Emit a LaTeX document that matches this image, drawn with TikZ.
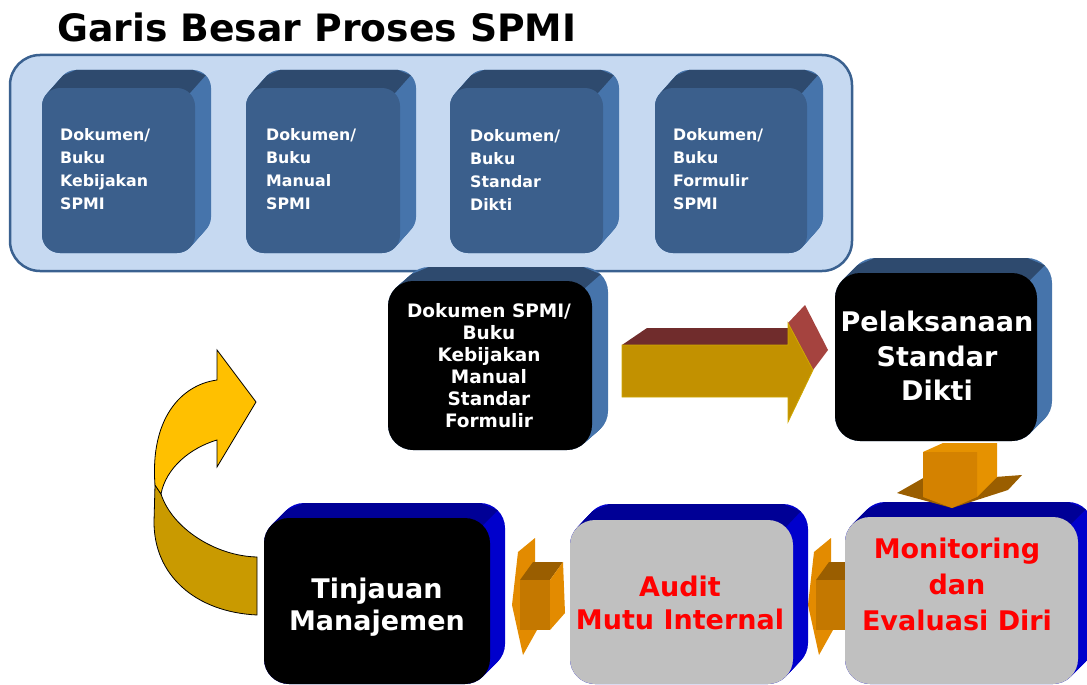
\documentclass[tikz,border=0pt]{standalone}
\usepackage{fontspec}
\setmainfont{DejaVu Sans}
\definecolor{contfill}{HTML}{C6D9F1}
\definecolor{contline}{HTML}{3A6190}
\definecolor{docfront}{HTML}{3B5F8C}
\definecolor{docside}{HTML}{4674AB}
\definecolor{doctop}{HTML}{2E4A6E}
\definecolor{bluesidec}{HTML}{0000CC}
\definecolor{bluetopc}{HTML}{000096}
\definecolor{greyfront}{HTML}{C0C0C0}
\definecolor{arrgold}{HTML}{C29100}
\definecolor{arrredtop}{HTML}{702C2C}
\definecolor{arrredside}{HTML}{A5433F}
\definecolor{orlight}{HTML}{E38B00}
\definecolor{ormid}{HTML}{C47800}
\definecolor{ordark}{HTML}{9A5E00}
\definecolor{ordfront}{HTML}{D48200}
\definecolor{ordside}{HTML}{E69200}
\definecolor{curvy}{HTML}{FFC000}
\definecolor{curvd}{HTML}{C99A00}
\definecolor{txtred}{HTML}{FF0000}
% 3D extrusion: x0 y0 x1 y1 r dx dy sidecolor topcolor
\newcommand\extru[9]{%
  \foreach \k in {0,1,...,16}{%
    \fill[#8,rounded corners=#5pt] ({#1+\k*#6/16},{#2-\k*#7/16}) rectangle ({#3+\k*#6/16},{#4-\k*#7/16});
  }%
  \fill[#9] ({#1+0.293*#5},{#2+0.293*#5}) -- ({#1+#6+0.293*#5},{#2-#7+0.293*#5}) -- ({#1+#6+#5},{#2-#7})
     -- ({#3+#6-#5},{#2-#7}) -- ({#3+#6-0.293*#5},{#2-#7+0.293*#5}) -- ({#3-0.293*#5},{#2+0.293*#5}) -- cycle;
}
\tikzset{
  front/.style={anchor=north west,inner sep=0pt,outer sep=0pt},
  doctxt/.style={anchor=west,inner sep=0pt,text=white,align=left,
     font=\fontsize{15.8}{23}\selectfont\bfseries},
  bigtxt/.style={inner sep=0pt,align=center,font=\fontsize{27}{34.5}\selectfont\bfseries}
}
\begin{document}
\begin{tikzpicture}[x=1pt,y=-1pt]
\useasboundingbox (0,0) rectangle (1087,685);
\clip (0,0) rectangle (1087,685);
% title
\node[anchor=base west,inner sep=0pt,font=\fontsize{37.7}{40}\selectfont\bfseries] (title) at (57,42) {Garis Besar Proses SPMI};
% container
\node[front,fill=contfill,draw=contline,line width=2.5pt,rounded corners=30pt,minimum width=842pt,minimum height=216pt] (cont) at (10,55) {};
% document boxes
\extru{42}{88}{195}{253}{18}{16}{18}{docside}{doctop}
\node[front,fill=docfront,rounded corners=18pt,minimum width=153pt,minimum height=165pt] (b1) at (42,88) {};
\extru{246}{88}{400}{253}{18}{16}{18}{docside}{doctop}
\node[front,fill=docfront,rounded corners=18pt,minimum width=154pt,minimum height=165pt] (b2) at (246,88) {};
\extru{450}{88}{603}{253}{18}{16}{18}{docside}{doctop}
\node[front,fill=docfront,rounded corners=18pt,minimum width=153pt,minimum height=165pt] (b3) at (450,88) {};
\extru{655}{88}{807}{253}{18}{16}{18}{docside}{doctop}
\node[front,fill=docfront,rounded corners=18pt,minimum width=152pt,minimum height=165pt] (b4) at (655,88) {};
\node[doctxt] (t1) at (60,169.5) {Dokumen/\\Buku\\Kebijakan\\SPMI};
\node[doctxt] (t2) at (266,169.5) {Dokumen/\\Buku\\Manual\\SPMI};
\node[doctxt] (t3) at (470,169.5) {Dokumen/\\Buku\\Standar\\Dikti};
\node[doctxt] (t4) at (673,169.5) {Dokumen/\\Buku\\Formulir\\SPMI};
% middle black box
\extru{388}{281}{592}{450}{25}{16}{14}{docside}{doctop}
\node[front,fill=black,rounded corners=25pt,minimum width=204pt,minimum height=169pt] (mid) at (388,281) {};
\node[inner sep=0pt,align=center,text=white,font=\fontsize{18.5}{22}\selectfont\bfseries] (midt) at (489,366)
  {Dokumen SPMI/\\Buku\\Kebijakan\\Manual\\Standar\\Formulir};
% Pelaksanaan
\extru{835}{273}{1037}{441}{25}{15}{15}{docside}{doctop}
\node[front,fill=black,rounded corners=25pt,minimum width=202pt,minimum height=168pt] (pel) at (835,273) {};
\node[bigtxt,text=white] (pelt) at (937,356) {Pelaksanaan\\Standar\\Dikti};
% right arrow (3D)
\fill[arrredtop] (622,345) -- (647,328) -- (788,328) -- (788,345) -- cycle;
\fill[arrredside] (788,323) -- (805,305) -- (828,350) -- (813,370) -- cycle;
\fill[arrgold,draw=arrgold!80!yellow,line width=0.8pt] (622,345) -- (788,345) -- (788,323) -- (813,370) -- (788,422) -- (788,397) -- (622,397) -- cycle;
% left orange arrows
\foreach \s in {0,296}{
  \begin{scope}[xshift=\s pt]
  \fill[orlight] (535,538) -- (518,552) -- (512,605) -- (523,655) -- (537,630) -- (535,563) -- cycle;
  \fill[ordark] (520,580) -- (533,562) -- (563,562) -- (550,580) -- cycle;
  \fill[orlight] (550,580) -- (563,562) -- (565,613) -- (550,630) -- cycle;
  \fill[ormid] (520,580) -- (550,580) -- (550,630) -- (520,630) -- cycle;
  \end{scope}
}
% bottom row
\extru{264}{518}{490}{684}{25}{15}{15}{bluesidec}{bluetopc}
\node[front,fill=black,rounded corners=25pt,minimum width=226pt,minimum height=166pt] (tin) at (264,518) {};
\node[bigtxt,text=white,font=\fontsize{27}{32}\selectfont\bfseries] (tint) at (377,607) {Tinjauan\\Manajemen};
\extru{570}{520}{793}{684}{25}{15}{16}{bluesidec}{bluetopc}
\node[front,fill=greyfront,rounded corners=25pt,minimum width=223pt,minimum height=164pt] (aud) at (570,520) {};
\node[bigtxt,text=txtred,font=\fontsize{27}{33}\selectfont\bfseries] (audt) at (680,603) {Audit\\Mutu Internal};
\extru{845}{517}{1078}{684}{25}{15}{15}{bluesidec}{bluetopc}
\node[front,fill=greyfront,rounded corners=25pt,minimum width=233pt,minimum height=167pt] (mon) at (845,517) {};
\node[bigtxt,text=txtred,font=\fontsize{27}{36}\selectfont\bfseries] (mont) at (957,584) {Monitoring\\dan\\Evaluasi Diri};
% down arrow
\fill[ordark] (897,493) -- (925,477) -- (995,477) -- (1022,475) -- (1008,490) -- (952,508) -- cycle;
\fill[ordside] (923,452) -- (943,443) -- (997,443) -- (997,477) -- (977,497) -- (977,452) -- cycle;
\fill[ordfront] (923,452) -- (977,452) -- (977,497) -- (952,508) -- (923,497) -- cycle;
% curved arrow
\filldraw[fill=curvd,draw=black,line width=0.8pt] (257,557) -- (257,615) .. controls (195,612) and (154,575) .. (154,522) -- (155,485) -- (161,494) .. controls (172,528) and (215,556) .. (257,557) -- cycle;
\filldraw[fill=curvy,draw=black,line width=0.8pt] (155,485) .. controls (150,420) and (180,385) .. (217,380) -- (217,350) -- (256,402) -- (217,467) -- (217,440) .. controls (190,448) and (166,468) .. (161,494) -- cycle;
\end{tikzpicture}
\end{document}
